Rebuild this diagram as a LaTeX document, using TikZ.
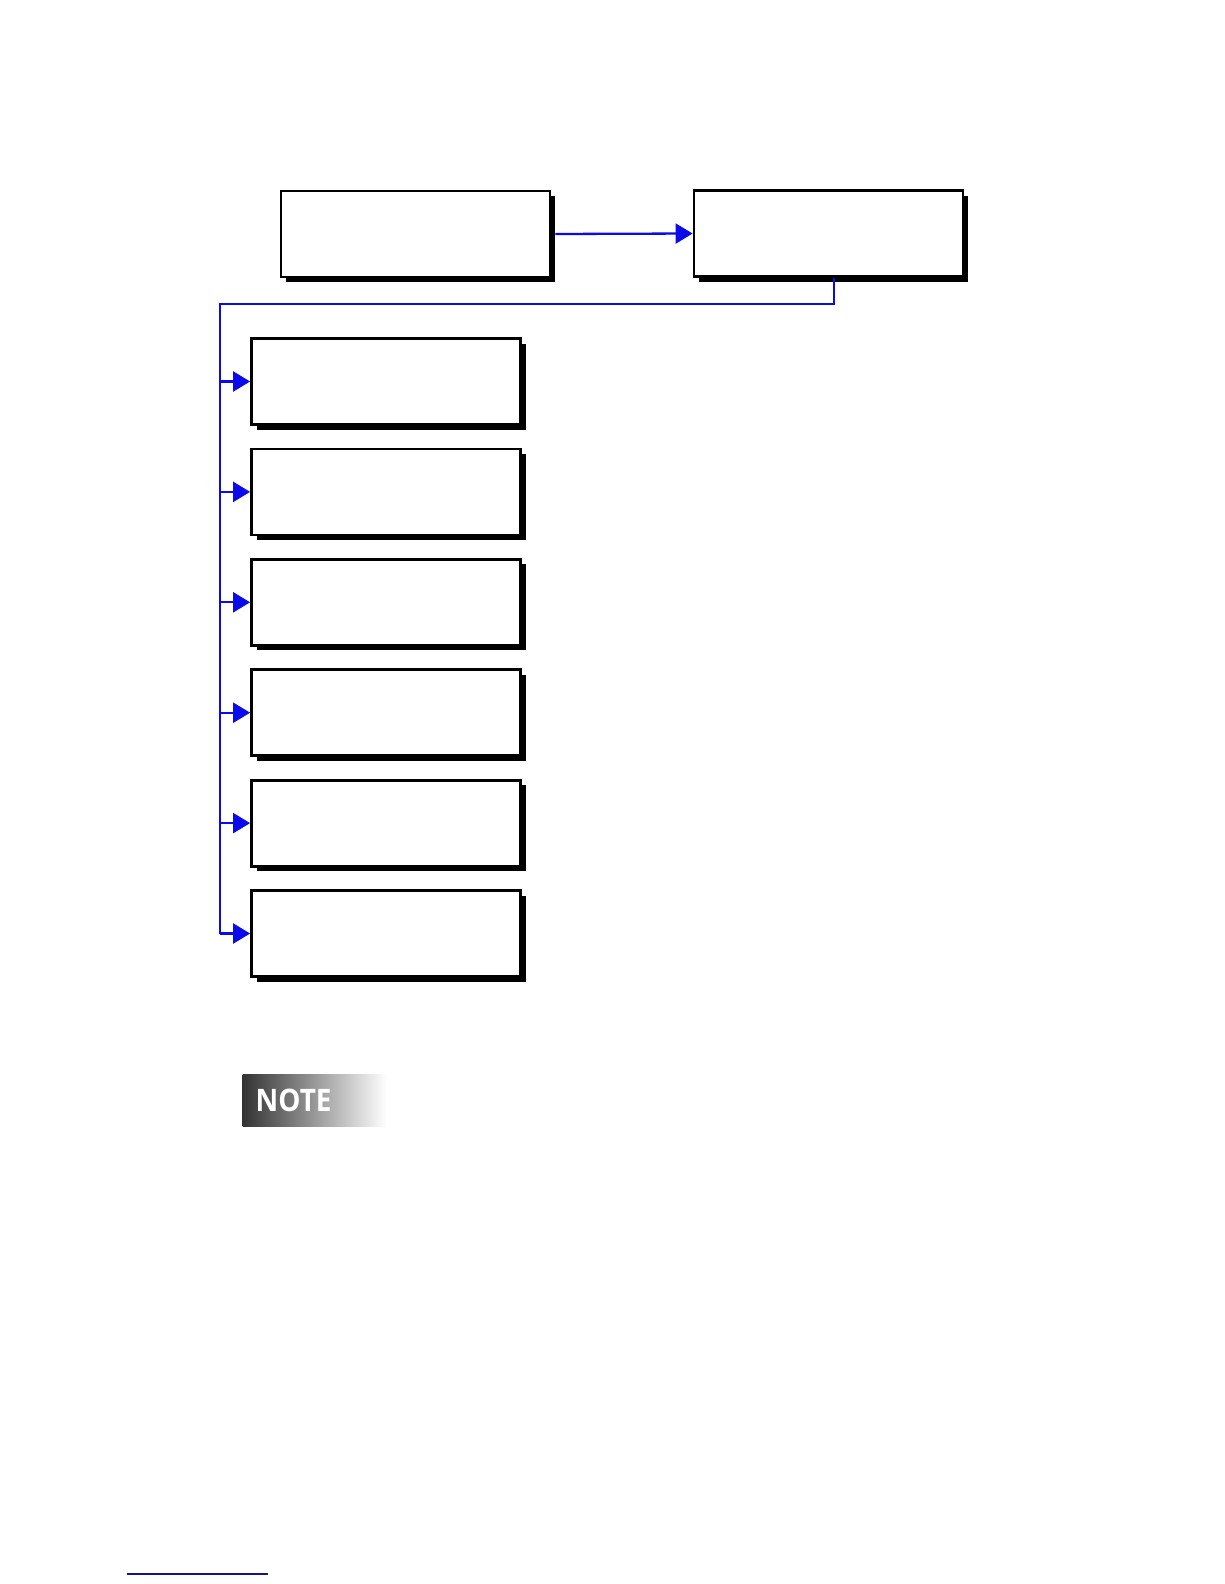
\documentclass[tikz,border=0pt]{standalone}
\usepackage{fontspec}
\setsansfont{Open Sans}
\usetikzlibrary{arrows.meta,shadows}
\definecolor{linkblue}{RGB}{10,10,235}
\definecolor{navyline}{RGB}{20,20,140}
\tikzset{
  box/.style={draw=black, line width=2.8pt, fill=white, minimum width=269pt, minimum height=86pt, inner sep=0pt,
    drop shadow={shadow xshift=5pt, shadow yshift=-5pt, fill=black, opacity=1}},
  conn/.style={draw=linkblue, line width=2.3pt},
  arr/.style={conn, -{Triangle[length=17pt,width=20pt]}},
}
\begin{document}
\begin{tikzpicture}[x=1pt,y=-1pt]
\useasboundingbox (0,0) rectangle (1224,1584);
\node[box] (top1) at (415.5,234) {};
\node[box] (top2) at (828.5,233.5) {};
\foreach \i/\y in {1/381.5,2/491.9,3/602.3,4/712.7,5/823.1,6/933.5}{
  \node[box] (c\i) at (386,\y) {};
}
\draw[arr] ([xshift=4pt]top1.east) -- (top2.west);
\coordinate (j1) at (834,304);
\coordinate (j2) at (220,304);
\coordinate (j3) at (220,934);
\draw[conn] (top2.south -| j1) -- (j1) -- (j2) -- (j3);
\foreach \i in {1,...,6}{
  \draw[arr] (j2 |- c\i.west) -- (c\i.west);
}
\node[minimum width=144pt, minimum height=52pt, inner sep=0pt, left color=black!80, right color=white, anchor=north west] (note) at (242.5,1074) {};
\node[anchor=west, text=white, font=\sffamily\bfseries\fontsize{31}{31}\selectfont, inner sep=0pt] (notetext) at ([xshift=13pt]note.west) {\scalebox{0.9}[1]{NOTE}};
\coordinate (fl) at (127,1574);
\coordinate (fr) at (268,1574);
\draw[navyline, line width=1.5pt] (fl) -- (fr);
\end{tikzpicture}
\end{document}
